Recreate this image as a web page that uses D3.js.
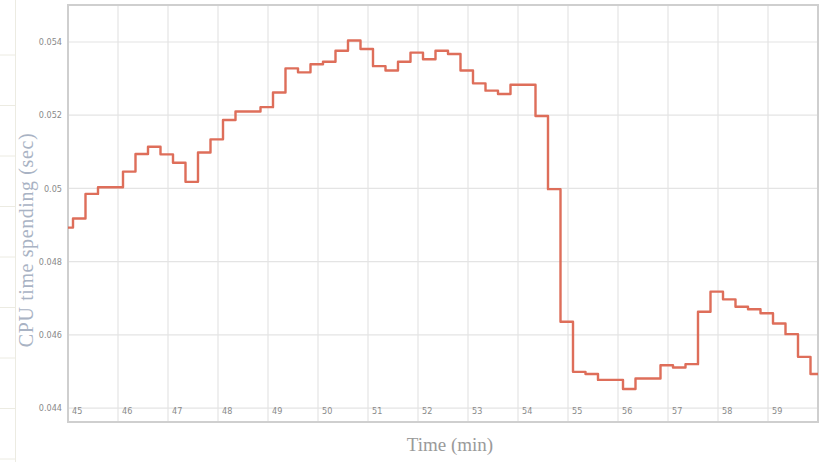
<!DOCTYPE html>
<html><head><meta charset="utf-8">
<script src="https://cdn.jsdelivr.net/npm/d3@7/dist/d3.min.js"></script>
<style>body{margin:0;background:#fff}svg{display:block}</style>
</head><body>
<svg id="c" width="823" height="462"></svg>
<script>
// step start times (minutes) and CPU time values (sec)
const stepTimes = [45].concat(d3.range(60).map(k => +(45.1 + 0.25*k).toFixed(3)));
const cpuValues = [
0.04893,0.04918,0.04985,0.05003,0.05003,0.05046,0.05094,0.05114,0.05093,0.05070,
0.05018,0.05098,0.05134,0.05187,0.05210,0.05210,0.05222,0.05262,0.05328,0.05317,
0.05339,0.05346,0.05376,0.05404,0.05381,0.05334,0.05322,0.05346,0.05371,0.05353,
0.05376,0.05367,0.05322,0.05287,0.05267,0.05258,0.05283,0.05283,0.05198,0.04998,
0.04636,0.04499,0.04493,0.04477,0.04477,0.04452,0.04481,0.04481,0.04517,0.04511,
0.04520,0.04663,0.04718,0.04697,0.04677,0.04670,0.04659,0.04631,0.04602,0.04540,
0.04493];
const xTicks = [45,46,47,48,49,50,51,52,53,54,55,56,57,58,59];
const yTicks = [0.044,0.046,0.048,0.050,0.052,0.054];
const yTickLabels = ["0.044","0.046","0.048","0.05","0.052","0.054"];
const xTitle = "Time (min)";
const yTitle = "CPU time spending (sec)";

const svg = d3.select("#c");
const L = 68, R = 818, T = 5, B = 422;
const x = d3.scaleLinear().domain([45, 60]).range([L, R]);
const y = d3.scaleLinear().domain([0.04362, 0.05501]).range([B, T]);

// faint left artifact strip
const strip = svg.append("g").attr("stroke", "#ecebe2").attr("stroke-width", 1);
strip.append("line").attr("x1", 15.5).attr("x2", 15.5).attr("y1", 0).attr("y2", 462);
d3.range(9).forEach(i => {
  const yy = 55 + i*50.5;
  strip.append("line").attr("x1", 0).attr("x2", 15).attr("y1", yy).attr("y2", yy);
});

// grid
const g = svg.append("g");
g.selectAll(".vg").data(xTicks.slice(1)).join("line")
  .attr("x1", d => x(d)).attr("x2", d => x(d)).attr("y1", T).attr("y2", B)
  .attr("stroke", "#e4e4e4").attr("stroke-width", 1.2);
g.selectAll(".hg").data(yTicks).join("line")
  .attr("x1", L).attr("x2", R).attr("y1", d => y(d)).attr("y2", d => y(d))
  .attr("stroke", "#e4e4e4").attr("stroke-width", 1.2);

// frame
svg.append("rect").attr("x", L).attr("y", T).attr("width", R - L).attr("height", B - T)
  .attr("fill", "none").attr("stroke", "#cfcfcf").attr("stroke-width", 2);

// tick labels
const tickFont = "'Liberation Sans Narrow','DejaVu Sans Condensed',sans-serif";
g.selectAll(".yl").data(yTicks).join("text")
  .attr("x", L - 6).attr("y", d => y(d)).attr("dy", "0.35em")
  .attr("text-anchor", "end").attr("font-family", tickFont).attr("font-size", 9)
  .attr("fill", "#8a8a8a").text((d, i) => yTickLabels[i]);
g.selectAll(".xl").data(xTicks).join("text")
  .attr("x", d => x(d) + 4).attr("y", 411).attr("dy", "0.35em")
  .attr("font-family", tickFont).attr("font-size", 9)
  .attr("fill", "#8a8a8a").text(d => d);

// line
const data = stepTimes.map((t, i) => ({t, v: cpuValues[i]}));
data.push({t: 60, v: cpuValues[cpuValues.length - 1]});
const line = d3.line().x(d => x(d.t)).y(d => y(d.v)).curve(d3.curveStepAfter);
svg.append("path").datum(data).attr("d", line)
  .attr("fill", "none").attr("stroke", "#dc6651").attr("stroke-width", 2.4)
  .attr("stroke-linejoin", "round").attr("opacity", 0.95);

// titles
svg.append("text").attr("x", 450).attr("y", 451).attr("text-anchor", "middle")
  .attr("font-family", "'Liberation Serif','DejaVu Serif',serif").attr("font-size", 19)
  .attr("fill", "#9a9a9a").text(xTitle);
svg.append("text").attr("transform", "translate(33,240) rotate(-90)").attr("text-anchor", "middle")
  .attr("font-family", "'Liberation Serif','DejaVu Serif',serif").attr("font-size", 20)
  .attr("letter-spacing", 0.6)
  .attr("fill", "#a9b3c4").text(yTitle);
</script>
</body></html>
